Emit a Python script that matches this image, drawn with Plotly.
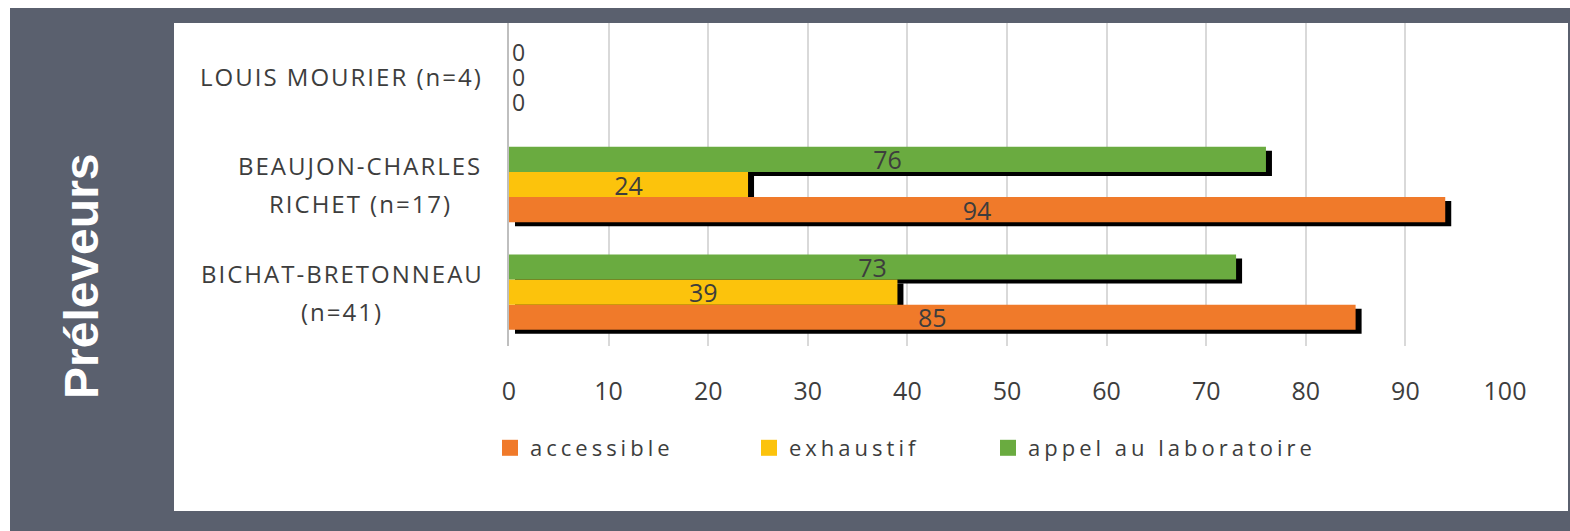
import plotly.graph_objects as go

# ---------------- data ----------------
categories = ["BICHAT-BRETONNEAU (n=41)", "BEAUJON-CHARLES RICHET (n=17)", "LOUIS MOURIER (n=4)"]
label_lines = [["BICHAT-BRETONNEAU", "(n=41)"], ["BEAUJON-CHARLES", "RICHET (n=17)"], ["LOUIS MOURIER (n=4)"]]
series_names = ["accessible", "exhaustif", "appel au laboratoire"]
accessible = [85, 94, 0]
exhaustif = [39, 24, 0]
appel = [73, 76, 0]
x_ticks = [0, 10, 20, 30, 40, 50, 60, 70, 80, 90, 100]
axis_title = "Préleveurs"

series_values = [accessible, exhaustif, appel]
colors = ["#f07a2a", "#fcc30c", "#6aab40"]
TXT = "#3d3d3d"

# ---------------- geometry (pixels) ----------------
W, H = 1570, 531
L, T = 509, 23
PW, PH = 1011, 328        # plot area
R = W - L - PW
B = H - T - PH


def px(xp):
    return (xp - L) / PW


def py(yp):
    return (T + PH - yp) / PH


main_x = [0, 996 / PW]
main_y = [5 / PH, 1]
shadow_x = [6 / PW, 1002 / PW]
shadow_y = [1 / PH, 324 / PH]

fig = go.Figure()

# shadow bars (subplot x2/y2)
for vals in series_values:
    fig.add_trace(go.Bar(
        y=categories, x=vals, orientation="h", xaxis="x2", yaxis="y2",
        marker=dict(color="#000000", line=dict(width=0)),
        showlegend=False, hoverinfo="skip",
    ))

# real bars (subplot x3/y3)
for name, vals, col in zip(series_names, series_values, colors):
    fig.add_trace(go.Bar(
        y=categories, x=vals, orientation="h", xaxis="x3", yaxis="y3",
        name=name, marker=dict(color=col, line=dict(width=0)),
        text=[str(v) for v in vals],
        textposition=["inside" if v > 0 else "outside" for v in vals],
        textangle=0,
        insidetextanchor="middle", constraintext="none", cliponaxis=False,
        textfont=dict(family="Open Sans", size=25, color=TXT),
        insidetextfont=dict(family="Open Sans", size=25, color=TXT),
        outsidetextfont=dict(family="Open Sans", size=23, color=TXT),
        showlegend=False,
    ))

# legend entries (one legend per series, so each can be placed)
legend_ids = ["legend", "legend2", "legend3"]
legend_x = [490, 749, 988]
for name, col, lid in zip(series_names, colors, legend_ids):
    fig.add_trace(go.Scatter(
        x=[None], y=[None], xaxis="x3", yaxis="y3", mode="markers",
        marker=dict(symbol="square", size=18, color=col),
        name='<span style="letter-spacing:4px">' + name + "</span>",
        showlegend=True, legend=lid,
    ))

common_y = dict(type="category", categoryorder="array", categoryarray=categories,
                range=[-0.5, 2.5], fixedrange=True)


def legend_cfg(xp):
    return dict(orientation="h", x=px(xp), xanchor="left", y=py(448), yanchor="middle",
                font=dict(family="Open Sans", size=22, color=TXT),
                bgcolor="rgba(0,0,0,0)", itemclick=False, itemdoubleclick=False)


fig.update_layout(
    width=W, height=H,
    margin=dict(l=L, r=R, t=T, b=B, pad=0),
    paper_bgcolor="white",
    plot_bgcolor="rgba(0,0,0,0)",
    barmode="group", bargap=0.30, bargroupgap=0,
    font=dict(family="Open Sans", color=TXT),
    xaxis=dict(domain=main_x, anchor="y", range=[0, 100], tickvals=x_ticks,
               showgrid=True, gridcolor="#d9d9d9", gridwidth=1.5,
               zeroline=False, showline=False, ticks="",
               ticklabelstandoff=28,
               tickfont=dict(family="Open Sans", size=25, color=TXT)),
    yaxis=dict(domain=main_y, anchor="x", showticklabels=False, ticks="",
               showgrid=False, zeroline=False, showline=True,
               linecolor="#bfbfbf", linewidth=2, **common_y),
    xaxis2=dict(domain=shadow_x, anchor="y2", range=[0, 100], visible=False),
    yaxis2=dict(domain=shadow_y, anchor="x2", visible=False, **common_y),
    xaxis3=dict(domain=main_x, anchor="y3", range=[0, 100], visible=False),
    yaxis3=dict(domain=main_y, anchor="x3", visible=False, **common_y),
    legend=legend_cfg(legend_x[0]),
    legend2=legend_cfg(legend_x[1]),
    legend3=legend_cfg(legend_x[2]),
    showlegend=True,
)

# background panels
fig.add_shape(type="rect", xref="paper", yref="paper", layer="below",
              x0=px(10), x1=px(1570), y0=py(8), y1=py(531),
              fillcolor="#5a606e", line=dict(width=0))
fig.add_shape(type="rect", xref="paper", yref="paper", layer="below",
              x0=px(174), x1=px(1568), y0=py(23), y1=py(511),
              fillcolor="white", line=dict(width=0))

# category labels
centers = [342, 360, 341]
for cat, lines, cx in zip(categories, label_lines, centers):
    n = len(lines)
    for i, line in enumerate(lines):
        shift = 0 if n == 1 else (19 if i == 0 else -19)
        fig.add_annotation(
            text='<span style="letter-spacing:2px">' + line + "</span>",
            xref="paper", yref="y", x=px(cx), y=cat,
            xanchor="center", yanchor="middle", yshift=shift, showarrow=False,
            font=dict(family="Open Sans", size=24, color=TXT),
        )

# axis title
fig.add_annotation(
    text="<b>" + axis_title + "</b>", xref="paper", yref="paper",
    x=px(81), y=py(276), xanchor="center", yanchor="middle",
    textangle=-90, showarrow=False,
    font=dict(family="Liberation Sans", size=48, color="white"),
)

fig.write_html("out.html")
